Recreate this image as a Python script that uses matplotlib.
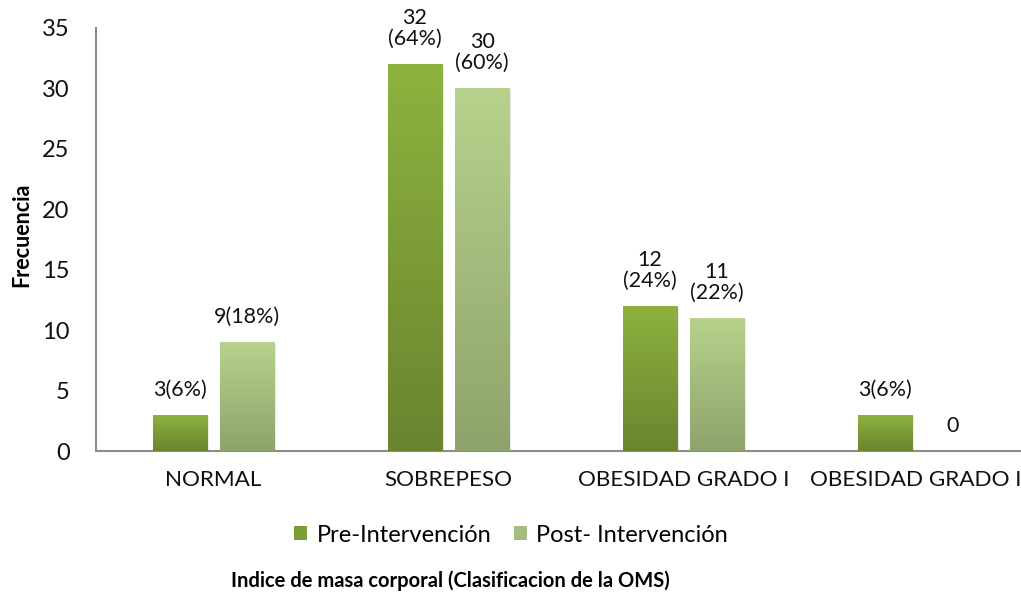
import numpy as np
import matplotlib.pyplot as plt
from matplotlib.colors import LinearSegmentedColormap
from matplotlib.patches import Patch
import matplotlib.patheffects as pe

plt.rcParams['font.family'] = ['Lato', 'DejaVu Sans']

# datos del IMC (n = 50)
categorias = ['NORMAL', 'SOBREPESO', 'OBESIDAD GRADO I', 'OBESIDAD GRADO II']
pre = [3, 32, 12, 3]
post = [9, 30, 11, 0]
n_total = 50
salto_pre = ['', '\n', '\n', '']
salto_post = ['', '\n', '\n', '']

# colores degradados (arriba, abajo)
grad_pre = ('#8db33f', '#6a842f')
grad_post = ('#b7d28c', '#8ea36b')

fig = plt.figure(figsize=(10.21, 5.96), dpi=100)
ax = fig.add_axes([96 / 1021, 1 - 451 / 596, 940 / 1021, 423 / 596])

x = np.arange(len(categorias))
ancho = 0.23
sep = 0.143


def barras_degradado(pos, valores, colores):
    cmap = LinearSegmentedColormap.from_list('g', [colores[1], colores[0]])
    barras = ax.bar(pos, valores, ancho, color=colores[1], zorder=2)
    for b in barras:
        b.set_path_effects([pe.SimplePatchShadow(offset=(1.5, -1), shadow_rgbFace='#000000',
                                                 alpha=0.08), pe.Normal()])
        h = b.get_height()
        if h <= 0:
            continue
        x0 = b.get_x()
        grad = np.linspace(0, 1, 256).reshape(-1, 1)
        im = ax.imshow(grad, cmap=cmap, origin='lower', aspect='auto',
                       extent=[x0, x0 + b.get_width(), 0, h], zorder=3)
        im.set_clip_path(b)
    return barras


barras_degradado(x - sep, pre, grad_pre)
barras_degradado(x + sep, post, grad_post)

etiquetas = []
for i in range(len(categorias)):
    for pos, v, s in [(x[i] - sep, pre[i], salto_pre[i]), (x[i] + sep, post[i], salto_post[i])]:
        if v == 0:
            txt = '0'
        else:
            txt = f'{v}{s}({v * 100 // n_total}%)'
        t = ax.annotate(txt, (pos, v), xytext=(0, 11), textcoords='offset points',
                        ha='center', va='bottom', fontsize=15.5, color='#111111',
                        linespacing=1.05, zorder=5, annotation_clip=False)
        etiquetas.append(t)

ax.set_xlim(-0.5, len(categorias) - 0.5)
ax.set_ylim(0, 35)
ax.set_yticks(range(0, 36, 5))
ax.set_xticks(x)
ax.set_xticklabels(categorias)
ax.tick_params(axis='both', length=0, labelsize=16.2, colors='#111111')
ax.tick_params(axis='y', labelsize=17, pad=19)
ax.tick_params(axis='x', pad=14)
for lado in ['top', 'right']:
    ax.spines[lado].set_visible(False)
for lado in ['left', 'bottom']:
    ax.spines[lado].set_color('#8c8c8c')
    ax.spines[lado].set_linewidth(1.5)

fig.text(22 / 1021, 1 - 235 / 596, 'Frecuencia', rotation=90, ha='center', va='center',
         fontsize=15.5, fontweight='bold')
fig.text(450 / 1021, 1 - 581 / 596, 'Indice de masa corporal (Clasificacion de la OMS)',
         ha='center', va='center', fontsize=14.5, fontweight='bold')

handles = [Patch(facecolor='#7b9c37', label='Pre-Intervención'),
           Patch(facecolor='#a5bd7e', label='Post- Intervención')]
fig.legend(handles=handles, loc='center', bbox_to_anchor=(511 / 1021, 1 - 535 / 596),
           ncol=2, frameon=False, fontsize=17, handlelength=0.55, handleheight=0.55,
           handletextpad=0.4, columnspacing=0.95)

# las etiquetas que no caben arriba se bajan hasta el borde de la figura
fig.canvas.draw()
alto = fig.bbox.height
for t in etiquetas:
    caja = t.get_window_extent()
    if caja.y1 > alto - 8:
        exceso = (caja.y1 - (alto - 8)) * 72 / fig.dpi
        dx, dy = t.xyann
        t.xyann = (dx, dy - exceso)

fig.savefig('out.png', dpi=100)
